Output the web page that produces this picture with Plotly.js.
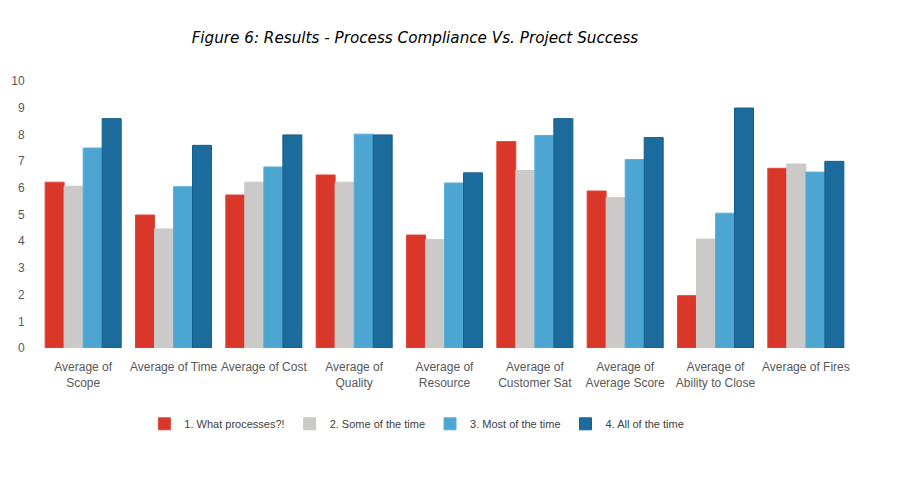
<!DOCTYPE html>
<html>
<head>
<meta charset="utf-8">
<script src="https://cdn.plot.ly/plotly-3.0.1.min.js"></script>
<style>html,body{margin:0;padding:0;background:#fff}#chart{width:908px;height:485px}</style>
</head>
<body>
<div id="chart"></div>
<script>
const categories = ["Average of<br>Scope", "Average of Time", "Average of Cost", "Average of<br>Quality", "Average of<br>Resource", "Average of<br>Customer Sat", "Average of<br>Average Score", "Average of<br>Ability to Close", "Average of Fires"];
const seriesNames = ["1. What processes?!", "2. Some of the time", "3. Most of the time", "4. All of the time"];
const whatProcesses = [6.21, 4.98, 5.73, 6.48, 4.23, 7.73, 5.88, 1.96, 6.73];
const someOfTime = [6.06, 4.46, 6.21, 6.21, 4.06, 6.65, 5.63, 4.08, 6.89];
const mostOfTime = [7.49, 6.04, 6.78, 8.01, 6.18, 7.96, 7.06, 5.05, 6.59];
const allOfTime = [8.59, 7.59, 7.98, 7.98, 6.56, 8.59, 7.88, 8.99, 6.99];
const yTicks = [0, 1, 2, 3, 4, 5, 6, 7, 8, 9, 10];

const colors = ["#D9372A", "#CBCAC9", "#4DA5D1", "#1B6C9C"];
const lines = ["#E0453A", "#CBCAC9", "#5AB0DA", "#15608E"];
const values = [whatProcesses, someOfTime, mostOfTime, allOfTime];

const traces = values.map((v, i) => ({
  type: "bar",
  name: seriesNames[i],
  x: categories,
  y: v,
  marker: {color: colors[i], line: {color: lines[i], width: 1}},
  hoverinfo: "x+y+name"
}));

const layout = {
  width: 908, height: 485,
  paper_bgcolor: "#fff", plot_bgcolor: "#fff",
  font: {family: "Liberation Sans, Arial, sans-serif", color: "#595959", size: 12},
  title: {text: "<i>Figure 6: Results - Process Compliance Vs. Project Success</i>",
          font: {family: "DejaVu Sans, Verdana, sans-serif", size: 15.2, color: "#000"},
          x: 0.457, xanchor: "center", y: 0.922, yanchor: "middle"},
  margin: {l: 38, r: 57, t: 81, b: 137},
  barmode: "group",
  bargap: 0.158,
  bargroupgap: 0,
  showlegend: true,
  legend: {orientation: "h", x: 0.466, xanchor: "center", y: -0.284, yanchor: "middle",
           font: {size: 11, color: "#404040"}, itemwidth: 30, traceorder: "normal"},
  xaxis: {showgrid: false, zeroline: false, showline: false, ticks: "outside", ticklen: 8, tickcolor: "rgba(0,0,0,0)",
          tickfont: {size: 12, color: "#595959"}, tickangle: 0},
  yaxis: {range: [0, 10], tickvals: yTicks, showgrid: false, zeroline: false, showline: false,
          ticks: "outside", ticklen: 10, tickcolor: "rgba(0,0,0,0)",
          tickfont: {size: 12, color: "#595959"}}
};

Plotly.newPlot("chart", traces, layout, {displayModeBar: false, staticPlot: true});
</script>
</body>
</html>
